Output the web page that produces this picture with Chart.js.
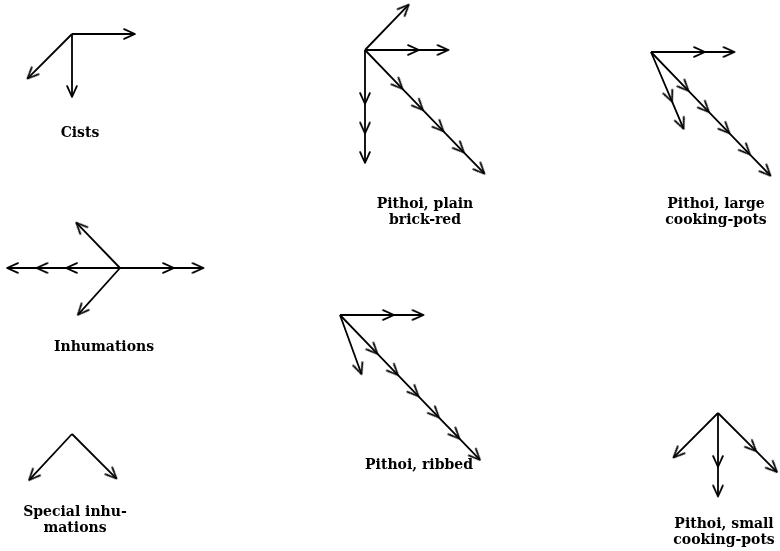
<!DOCTYPE html>
<html>
<head>
<meta charset="utf-8">
<script src="https://cdn.jsdelivr.net/npm/chart.js@4/dist/chart.umd.min.js"></script>
<style>
html,body{margin:0;padding:0;background:#fff;}
#c{display:block;}
</style>
</head>
<body>
<canvas id="c" width="780" height="551"></canvas>
<script>
// ---- DATA ----
const diagramNames = ['Cists','Pithoi, plain brick-red','Pithoi, large cooking-pots','Inhumations','Pithoi, ribbed','Special inhumations','Pithoi, small cooking-pots'];
const labelLines = [['Cists'],['Pithoi, plain','brick-red'],['Pithoi, large','cooking-pots'],['Inhumations'],['Pithoi, ribbed'],['Special inhu-','mations'],['Pithoi, small','cooking-pots']];
// compass bearings (degrees, N = 0, E = 90) of each orientation
const bearings = [[90,180,225],[44,90,180,136],[90,157,136],[316,270,90,222],[90,160,136],[223,135],[225,180,135]];
// number of cases (arrowheads) in each orientation
const counts = [[1,1,1],[1,2,3,5],[2,2,5],[1,3,2,1],[2,1,6],[1,1],[1,2,2]];

// ---- LAYOUT (positions, not data) ----
const origins = [[72,34],[365,50],[651,52],[120,268],[340,315],[72,434],[718,413]];
const labelPos = [[80,137],[425,208],[716,208],[104,351],[419,469],[75,516],[724,528]];
const lineGap = 16;
const singleLen = 63, firstLen = 54, stepLen = 29.5;

// chevron arrowhead image (tip at centre, pointing east)
function chevron(){
  const c = document.createElement('canvas');
  c.width = 30; c.height = 30;
  const g = c.getContext('2d');
  const a = 24*Math.PI/180, L = 12;
  g.strokeStyle = '#000'; g.lineWidth = 1.7; g.lineCap = 'round'; g.lineJoin='round';
  g.beginPath();
  g.moveTo(15 - L*Math.cos(a), 15 - L*Math.sin(a));
  g.lineTo(15, 15);
  g.lineTo(15 - L*Math.cos(a), 15 + L*Math.sin(a));
  g.stroke();
  return c;
}
const head = chevron();

const datasets = [];
bearings.forEach((bs, i) => {
  const [ox, oy] = origins[i];
  bs.forEach((b, j) => {
    const n = counts[i][j];
    const rad = b*Math.PI/180;
    const pts = [{x: ox, y: oy}];
    const radii = [0];
    for (let k = 1; k <= n; k++) {
      const d = n === 1 ? singleLen : firstLen + (k-1)*stepLen;
      pts.push({x: ox + d*Math.sin(rad), y: oy - d*Math.cos(rad)});
      radii.push(4);
    }
    datasets.push({
      label: diagramNames[i],
      data: pts,
      showLine: true,
      borderColor: '#000',
      borderWidth: 1.8,
      tension: 0,
      pointStyle: head,
      pointRadius: radii,
      pointHoverRadius: radii,
      pointRotation: b - 90,
      clip: false
    });
  });
});

const labelPlugin = {
  id: 'labels',
  afterDatasetsDraw(chart) {
    const {ctx, scales: {x, y}} = chart;
    ctx.save();
    ctx.fillStyle = '#000';
    ctx.font = 'bold 14px "DejaVu Serif"';
    ctx.textAlign = 'center';
    ctx.textBaseline = 'alphabetic';
    labelLines.forEach((lines, i) => {
      const [lx, ly] = labelPos[i];
      lines.forEach((t, k) => {
        ctx.fillText(t, x.getPixelForValue(lx), y.getPixelForValue(ly + k*lineGap));
      });
    });
    ctx.restore();
  }
};

new Chart(document.getElementById('c'), {
  type: 'scatter',
  data: { datasets },
  options: {
    responsive: false,
    animation: false,
    events: [],
    layout: { padding: 0, autoPadding: false },
    plugins: { legend: { display: false }, tooltip: { enabled: false } },
    scales: {
      x: { type: 'linear', min: 0, max: 780, display: false },
      y: { type: 'linear', min: 0, max: 551, reverse: true, display: false }
    }
  },
  plugins: [labelPlugin]
});
</script>
</body>
</html>
